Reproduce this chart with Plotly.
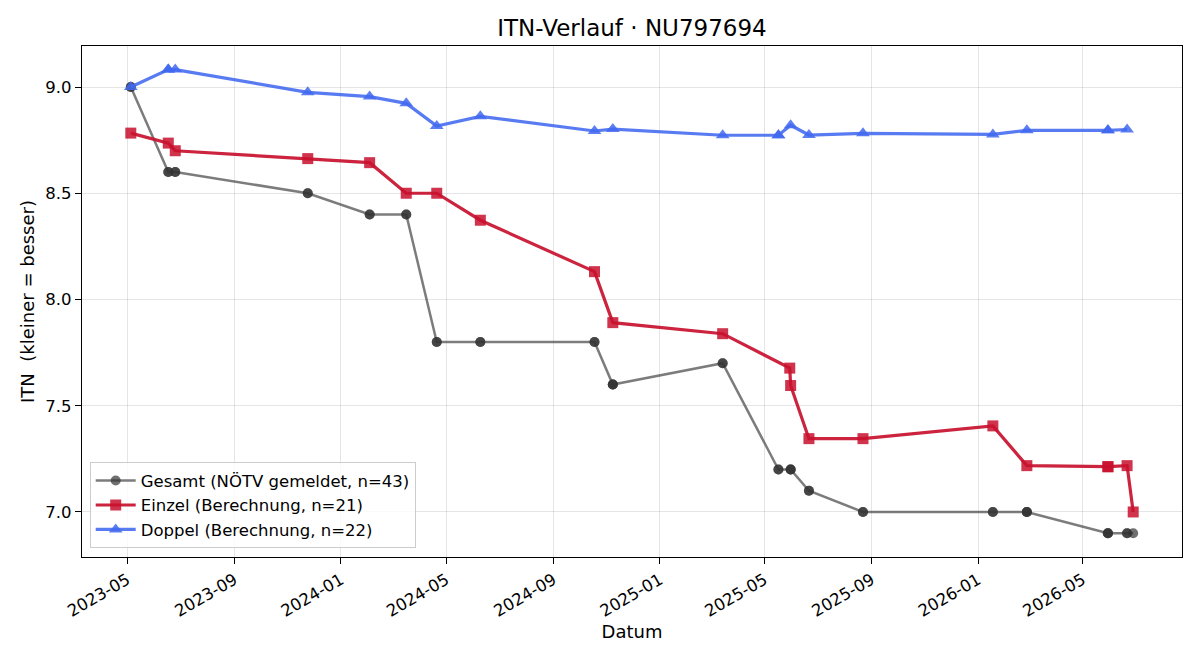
import plotly.graph_objects as go

# ---- data ----
gesamt_dates = [
    "2023-05-05", "2023-05-05",
    "2023-06-17", "2023-06-17",
    "2023-06-25", "2023-06-25",
    "2023-11-24", "2023-11-24",
    "2024-02-03", "2024-02-03",
    "2024-03-16", "2024-03-16",
    "2024-04-20", "2024-04-20",
    "2024-06-09", "2024-06-09",
    "2024-10-18", "2024-10-18",
    "2024-11-08", "2024-11-08", "2024-11-08",
    "2025-03-14", "2025-03-14",
    "2025-05-17", "2025-05-17",
    "2025-05-31", "2025-05-31", "2025-05-31",
    "2025-06-21", "2025-06-21",
    "2025-08-22", "2025-08-22",
    "2026-01-18", "2026-01-18",
    "2026-02-26", "2026-02-26", "2026-02-26",
    "2026-05-30", "2026-05-30", "2026-05-30",
    "2026-06-21", "2026-06-21",
    "2026-06-28",
]
gesamt_vals = [
    9.0, 9.0,
    8.6, 8.6,
    8.6, 8.6,
    8.5, 8.5,
    8.4, 8.4,
    8.4, 8.4,
    7.8, 7.8,
    7.8, 7.8,
    7.8, 7.8,
    7.6, 7.6, 7.6,
    7.7, 7.7,
    7.2, 7.2,
    7.2, 7.2, 7.2,
    7.1, 7.1,
    7.0, 7.0,
    7.0, 7.0,
    7.0, 7.0, 7.0,
    6.9, 6.9, 6.9,
    6.9, 6.9,
    6.9,
]

einzel_dates = [
    "2023-05-05", "2023-06-17", "2023-06-25", "2023-11-24", "2024-02-03",
    "2024-03-16", "2024-04-20", "2024-06-09", "2024-10-18", "2024-11-08",
    "2025-03-14", "2025-05-30", "2025-05-31", "2025-06-21", "2025-08-22",
    "2026-01-18", "2026-02-26", "2026-05-30", "2026-05-30", "2026-06-21",
    "2026-06-28",
]
einzel_vals = [
    8.783, 8.736, 8.700, 8.663, 8.644,
    8.500, 8.500, 8.373, 8.131, 7.891,
    7.839, 7.677, 7.595, 7.345, 7.345,
    7.405, 7.218, 7.213, 7.213, 7.218,
    7.000,
]

doppel_dates = [
    "2023-05-05", "2023-06-17", "2023-06-17", "2023-06-25", "2023-11-24",
    "2024-02-03", "2024-03-16", "2024-04-20", "2024-06-09", "2024-10-18",
    "2024-11-08", "2025-03-14", "2025-05-17", "2025-05-17", "2025-05-31",
    "2025-06-21", "2025-08-22", "2026-01-18", "2026-02-26", "2026-05-30",
    "2026-05-30", "2026-06-21",
]
doppel_vals = [
    9.000, 9.082, 9.082, 9.082, 8.975,
    8.955, 8.923, 8.816, 8.862, 8.793,
    8.802, 8.773, 8.773, 8.773, 8.820,
    8.774, 8.782, 8.777, 8.796, 8.796,
    8.796, 8.800,
]

tick_dates = ["2023-05-01", "2023-09-01", "2024-01-01", "2024-05-01", "2024-09-01",
              "2025-01-01", "2025-05-01", "2025-09-01", "2026-01-01", "2026-05-01"]
y_ticks = [7.0, 7.5, 8.0, 8.5, 9.0]

FONT = "DejaVu Sans"
FS = 16.5
FS_LABEL = 18

fig = go.Figure()
fig.add_trace(go.Scatter(
    x=gesamt_dates, y=gesamt_vals, mode="lines+markers",
    name=f"Gesamt (NÖTV gemeldet, n={len(gesamt_vals)})",
    line=dict(color="rgba(68,68,68,0.7)", width=2.5),
    marker=dict(symbol="circle", size=10, color="rgba(51,51,51,0.7)", line=dict(width=0)),
))
fig.add_trace(go.Scatter(
    x=einzel_dates, y=einzel_vals, mode="lines+markers",
    name=f"Einzel (Berechnung, n={len(einzel_vals)})",
    line=dict(color="rgba(200,16,46,0.92)", width=3.2),
    marker=dict(symbol="square", size=11, color="rgba(200,16,46,0.85)", line=dict(width=0)),
))
fig.add_trace(go.Scatter(
    x=doppel_dates, y=doppel_vals, mode="lines+markers",
    name=f"Doppel (Berechnung, n={len(doppel_vals)})",
    line=dict(color="rgba(65,105,240,0.88)", width=3.2),
    marker=dict(symbol="triangle-up", size=12, color="rgba(65,105,240,0.85)", line=dict(width=0)),
))

axis_common = dict(
    showline=True, linecolor="black", linewidth=1.2, mirror=True,
    ticks="outside", ticklen=6, tickcolor="black", tickwidth=1.2,
    showgrid=True, gridcolor="rgba(0,0,0,0.1)", gridwidth=1,
    zeroline=False,
    tickfont=dict(family=FONT, size=FS, color="black"),
)

fig.update_layout(
    width=1200, height=660,
    margin=dict(l=82, r=18, t=46, b=103),
    paper_bgcolor="white", plot_bgcolor="white",
    title=dict(text="ITN-Verlauf · NU797694", x=0.5, xanchor="center", xref="paper",
               y=1 - 28 / 660, yanchor="middle",
               font=dict(family=FONT, size=23, color="black")),
    xaxis=dict(
        **axis_common,
        type="date",
        range=["2023-03-10", "2026-08-23"],
        tickvals=tick_dates,
        tickformat="%Y-%m",
        tickangle=-30,
        title=dict(text="Datum", font=dict(family=FONT, size=FS_LABEL, color="black"), standoff=4),
        automargin=False,
    ),
    yaxis=dict(
        **axis_common,
        range=[6.788, 9.193],
        tickvals=y_ticks,
        tickformat=".1f",
        title=dict(text="ITN\u00a0 (kleiner = besser)", font=dict(family=FONT, size=FS_LABEL, color="black"), standoff=6),
        automargin=False,
    ),
    legend=dict(
        x=0.007, y=0.017, xanchor="left", yanchor="bottom",
        bgcolor="rgba(255,255,255,0.8)", bordercolor="#cccccc", borderwidth=1,
        font=dict(family=FONT, size=FS, color="black"),
        tracegroupgap=0, itemwidth=40,
    ),
    showlegend=True,
)

fig.write_html("out.html")
